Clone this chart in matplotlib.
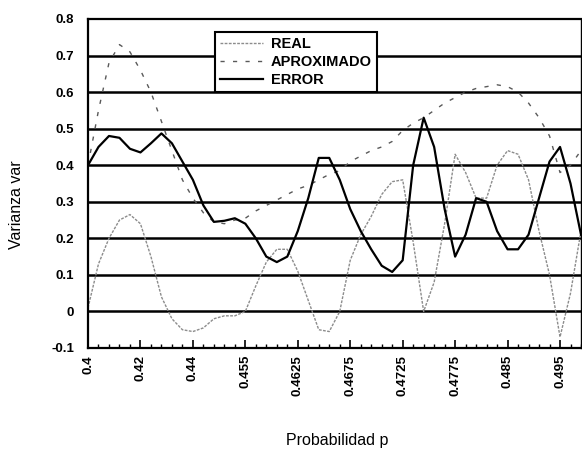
import matplotlib
matplotlib.use("Agg")
import matplotlib.pyplot as plt

plt.rcParams['font.family'] = ['Liberation Sans', 'DejaVu Sans']

# categorias del eje x (una por punto), solo cada 5a lleva etiqueta
n_puntos = 48
etiquetas_x = ['0.4', '0.42', '0.44', '0.455', '0.4625', '0.4675',
               '0.4725', '0.4775', '0.485', '0.495']
etiquetas_y = ['-0.1', '0', '0.1', '0.2', '0.3', '0.4', '0.5', '0.6', '0.7', '0.8']
valores_y = [-0.1, 0, 0.1, 0.2, 0.3, 0.4, 0.5, 0.6, 0.7, 0.8]

real = [0.01, 0.13, 0.20, 0.25, 0.265, 0.24, 0.15, 0.04, -0.02, -0.05,
        -0.055, -0.045, -0.02, -0.012, -0.012, 0.0, 0.07, 0.135, 0.17, 0.17,
        0.11, 0.03, -0.05, -0.055, 0.0, 0.14, 0.21, 0.26, 0.32, 0.355,
        0.36, 0.19, 0.0, 0.08, 0.24, 0.43, 0.38, 0.31, 0.31, 0.40,
        0.44, 0.43, 0.36, 0.22, 0.10, -0.07, 0.05, 0.22]

aproximado = [0.40, 0.55, 0.68, 0.73, 0.71, 0.66, 0.60, 0.52, 0.44, 0.36,
              0.31, 0.27, 0.245, 0.24, 0.25, 0.255, 0.275, 0.29, 0.305, 0.32,
              0.335, 0.345, 0.36, 0.375, 0.385, 0.41, 0.425, 0.44, 0.45, 0.465,
              0.495, 0.515, 0.53, 0.55, 0.57, 0.585, 0.60, 0.61, 0.615, 0.62,
              0.615, 0.60, 0.57, 0.53, 0.48, 0.38, 0.40, 0.44]

error = [0.40, 0.45, 0.48, 0.475, 0.445, 0.435, 0.46, 0.487, 0.46, 0.41,
         0.36, 0.29, 0.245, 0.248, 0.255, 0.24, 0.20, 0.15, 0.135, 0.15,
         0.22, 0.31, 0.42, 0.42, 0.36, 0.28, 0.22, 0.17, 0.125, 0.108,
         0.14, 0.40, 0.53, 0.45, 0.28, 0.15, 0.21, 0.31, 0.30, 0.22,
         0.17, 0.17, 0.21, 0.31, 0.41, 0.45, 0.35, 0.21]

x = list(range(n_puntos))

fig = plt.figure(figsize=(5.82, 4.55), dpi=100)
ax = fig.add_axes([88 / 582, 1 - 348 / 455, 493 / 582, 329 / 455])

# lineas horizontales gruesas de la cuadricula
for v in valores_y[1:-1]:
    ax.axhline(v, color='black', lw=1.8, zorder=1)

ax.plot(x, real, color='0.55', lw=1.0, linestyle=(0, (2, 1)), label='REAL', zorder=2)
ax.plot(x, aproximado, color='0.35', lw=1.0, linestyle=(0, (3, 6)),
        label='APROXIMADO', zorder=2)
ax.plot(x, error, color='black', lw=1.6, label='ERROR', zorder=3)

ax.set_xlim(0, n_puntos - 1)
ax.set_ylim(-0.1, 0.8)

ax.set_xticks(range(0, 50, 5))
ax.set_xticklabels(etiquetas_x, rotation=90, fontsize=9.5, fontweight='bold')
ax.set_xticks(x, minor=True)
ax.tick_params(axis='x', which='major', direction='in', length=6, width=1.2, pad=5)
ax.tick_params(axis='x', which='minor', direction='in', length=3, width=1)

ax.set_yticks(valores_y)
ax.set_yticklabels(etiquetas_y, fontsize=9.5, fontweight='bold')
ax.tick_params(axis='y', length=0, pad=10)

for s in ['left', 'bottom', 'top']:
    ax.spines[s].set_linewidth(1.6)
ax.spines['right'].set_linewidth(1.0)

leg = ax.legend(loc='upper left', bbox_to_anchor=(0.258, 0.962),
                prop={'weight': 'bold', 'size': 10.5}, frameon=True,
                fancybox=False, handlelength=2.9, handletextpad=0.55,
                labelspacing=0.3, borderpad=0.35, borderaxespad=0)
leg.get_frame().set_edgecolor('black')
leg.get_frame().set_linewidth(1.5)
leg.get_frame().set_alpha(1)
leg.set_zorder(5)

fig.text(17 / 582, 1 - 205 / 455, 'Varianza var', rotation=90,
         ha='center', va='center', fontsize=11.5)
fig.text(337 / 582, 1 - 441 / 455, 'Probabilidad p',
         ha='center', va='center', fontsize=11.5)

fig.savefig('out.png', dpi=100)
